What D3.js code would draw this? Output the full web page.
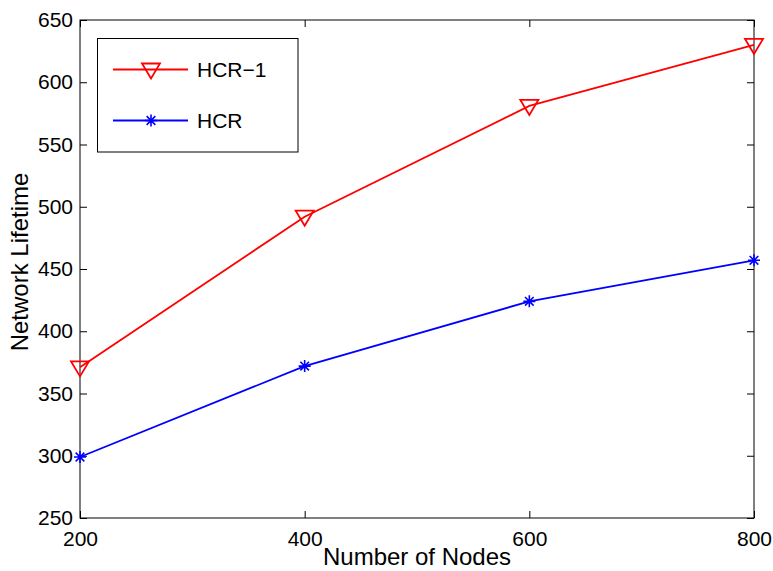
<!DOCTYPE html>
<html><head><meta charset="utf-8">
<script src="https://cdn.jsdelivr.net/npm/d3@7"></script>
<style>body{margin:0;background:#fff}svg{display:block}text{font-family:"Liberation Sans",Arial,Helvetica,sans-serif;fill:#000}</style>
</head><body><svg id="c" width="773" height="571"></svg>
<script>
const nodes = [200, 400, 600, 800];
const hcr1 = [371, 492, 581, 630];
const hcr = [299, 372, 424, 457];
const xTicks = [200, 400, 600, 800];
const yTicks = [250, 300, 350, 400, 450, 500, 550, 600, 650];
const seriesNames = ["HCR\u22121", "HCR"];
const seriesColors = ["#ff0000", "#0000ff"];

const svg = d3.select("#c");
const L = 80, R = 754, T = 20, B = 518;
const x = d3.scaleLinear().domain([200, 800]).range([L, R]);
const y = d3.scaleLinear().domain([250, 650]).range([B, T]);

// box
svg.append("rect").attr("x", L).attr("y", T).attr("width", R - L).attr("height", B - T)
  .attr("fill", "none").attr("stroke", "#000").attr("stroke-width", 1);

const tl = 7;
const xb = svg.append("g").attr("transform", `translate(0,${B})`)
  .call(d3.axisBottom(x).tickValues(xTicks).tickSize(-tl).tickPadding(12).tickFormat(d3.format("d")));
const xt = svg.append("g").attr("transform", `translate(0,${T})`)
  .call(d3.axisTop(x).tickValues(xTicks).tickSize(-tl).tickFormat(""));
const yl = svg.append("g").attr("transform", `translate(${L},0)`)
  .call(d3.axisLeft(y).tickValues(yTicks).tickSize(-tl).tickPadding(7).tickFormat(d3.format("d")));
const yr = svg.append("g").attr("transform", `translate(${R},0)`)
  .call(d3.axisRight(y).tickValues(yTicks).tickSize(-tl).tickFormat(""));
[xb, xt, yl, yr].forEach(g => {
  g.select(".domain").remove();
  g.selectAll(".tick line").attr("stroke", "#000").attr("stroke-width", 1);
  g.selectAll("text").attr("font-size", 21).attr("font-family", '"Liberation Sans",Arial,sans-serif').attr("fill", "#000");
});
xb.selectAll("text").attr("dy", "0.76em");

// axis titles
svg.append("text").attr("x", (L + R) / 2).attr("y", 565).attr("text-anchor", "middle")
  .attr("font-size", 24).text("Number of Nodes");
svg.append("text").attr("transform", "translate(28,262) rotate(-90)").attr("text-anchor", "middle")
  .attr("font-size", 24).text("Network Lifetime");

const line = d3.line().x((d, i) => x(nodes[i])).y(d => y(d));
const triPath = "M-9,-6L9,-6L0,9Z";
function star(g, cx, cy, color) {
  const s = 6;
  const p = `M${cx - s},${cy}L${cx + s},${cy}M${cx},${cy - s}L${cx},${cy + s}` +
    `M${cx - s * 0.72},${cy - s * 0.72}L${cx + s * 0.72},${cy + s * 0.72}M${cx - s * 0.72},${cy + s * 0.72}L${cx + s * 0.72},${cy - s * 0.72}`;
  g.append("path").attr("d", p).attr("stroke", color).attr("stroke-width", 1.6).attr("fill", "none");
}

const g1 = svg.append("g");
g1.append("path").datum(hcr1).attr("d", line).attr("fill", "none").attr("stroke", seriesColors[0]).attr("stroke-width", 1.8);
g1.selectAll("path.m").data(hcr1).enter().append("path").attr("class", "m")
  .attr("transform", (d, i) => `translate(${x(nodes[i])},${y(d)})`)
  .attr("d", triPath).attr("fill", "none").attr("stroke", seriesColors[0]).attr("stroke-width", 1.8);

const g2 = svg.append("g");
g2.append("path").datum(hcr).attr("d", line).attr("fill", "none").attr("stroke", seriesColors[1]).attr("stroke-width", 1.8);
hcr.forEach((d, i) => star(g2, x(nodes[i]), y(d), seriesColors[1]));

// legend
const lg = svg.append("g");
lg.append("rect").attr("x", 97.5).attr("y", 38.5).attr("width", 200.5).attr("height", 113.5)
  .attr("fill", "#fff").attr("stroke", "#000").attr("stroke-width", 1);
const ly = [69.5, 120.5];
seriesNames.forEach((n, i) => {
  lg.append("line").attr("x1", 113).attr("x2", 188).attr("y1", ly[i]).attr("y2", ly[i])
    .attr("stroke", seriesColors[i]).attr("stroke-width", 1.8);
  if (i === 0) {
    lg.append("path").attr("transform", `translate(151,${ly[i]})`).attr("d", triPath)
      .attr("fill", "none").attr("stroke", seriesColors[i]).attr("stroke-width", 1.8);
  } else {
    star(lg, 151, ly[i], seriesColors[i]);
  }
  lg.append("text").attr("x", 197).attr("y", ly[i]).attr("dy", "0.36em").attr("font-size", 21).text(n);
});
</script></body></html>
